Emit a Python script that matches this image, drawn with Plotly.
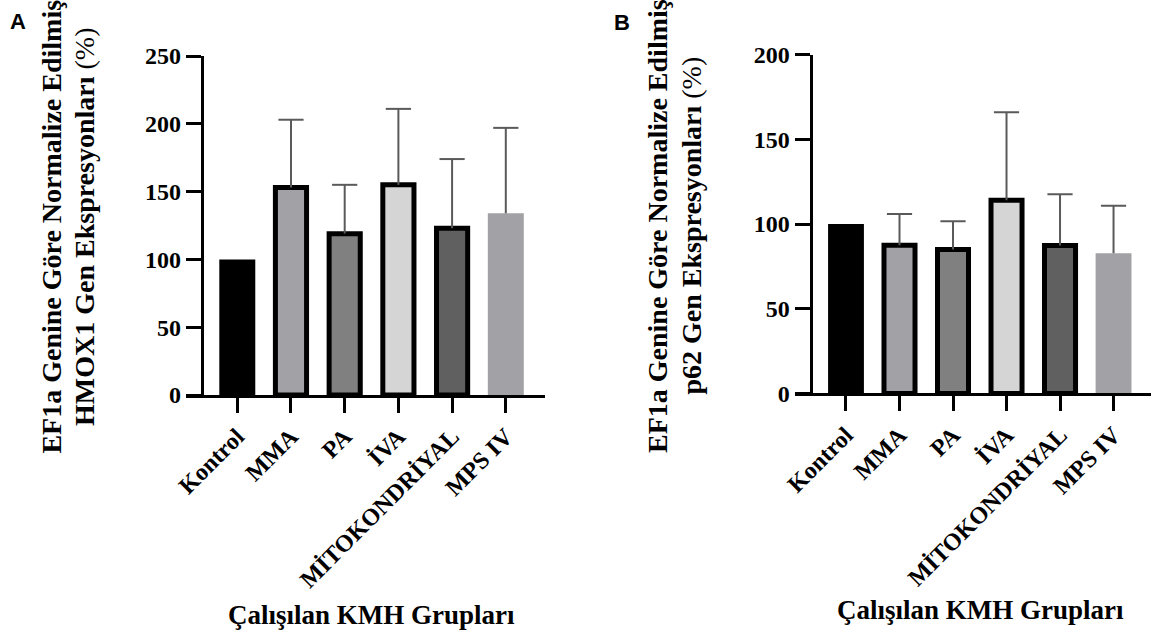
import plotly.graph_objects as go

# Groups studied
groups = ["Kontrol", "MMA", "PA", "İVA", "MİTOKONDRİYAL", "MPS IV"]

# HMOX1 expression (% of control, EF1a-normalised), mean and upper SD
hmox1_mean = [100, 153, 119, 155, 123, 134]
hmox1_sd = [None, 50, 36, 56, 51, 63]

# p62 expression (% of control, EF1a-normalised), mean and upper SD
p62_mean = [100, 87.5, 85, 114, 87.3, 82.7]
p62_sd = [None, 18.4, 16.6, 51.9, 30.2, 28.1]

hmox1_ticks = [0, 50, 100, 150, 200, 250]
p62_ticks = [0, 50, 100, 150, 200]

bar_fill = ["#000000", "#a2a2a6", "#808080", "#d5d5d5", "#606060", "#a2a2a6"]
bar_edge = [0, 5, 5, 5, 5, 0]
bar_width = [0.67, 0.58, 0.58, 0.58, 0.58, 0.67]

W, H = 1159, 634
SERIF = "Liberation Serif"
ERR = "#5a5a5a"


def fx(p):
    return p / W


def fy(p):
    return 1 - p / H


fig = go.Figure()


def add_panel(mean, sd, xa, ya):
    fig.add_trace(go.Bar(
        x=groups, y=mean, width=bar_width,
        marker=dict(color=bar_fill, line=dict(color="#000000", width=bar_edge)),
        xaxis=xa, yaxis=ya, showlegend=False, hoverinfo="x+y",
    ))
    # upper SD whiskers: cap marker at mean+SD, stem down to the mean
    ex = [g for g, s in zip(groups, sd) if s is not None]
    top = [m + s for m, s in zip(mean, sd) if s is not None]
    es = [s for s in sd if s is not None]
    fig.add_trace(go.Scatter(
        x=ex, y=top, mode="markers",
        marker=dict(symbol="line-ew", size=18, color=ERR, line=dict(color=ERR, width=2)),
        error_y=dict(type="data", array=[0] * len(es), arrayminus=es,
                     symmetric=False, color=ERR, thickness=2, width=0),
        xaxis=xa, yaxis=ya, showlegend=False, hoverinfo="skip",
    ))


add_panel(hmox1_mean, hmox1_sd, "x", "y")
add_panel(p62_mean, p62_sd, "x2", "y2")

xcommon = dict(
    type="category", categoryorder="array", categoryarray=groups,
    showline=True, linewidth=3, linecolor="#000000",
    ticks="outside", ticklen=15, tickwidth=3, tickcolor="#000000",
    tickangle=-45, tickfont=dict(family=SERIF, size=24, color="#000000", weight="bold"),
    showgrid=False, zeroline=False, fixedrange=True, automargin=False,
)
ycommon = dict(
    showline=True, linewidth=3, linecolor="#000000",
    ticks="outside", ticklen=15, tickwidth=3, tickcolor="#000000",
    tickfont=dict(family=SERIF, size=24, color="#000000", weight="bold"),
    showgrid=False, zeroline=False, anchor="free", fixedrange=True, automargin=False,
)

fig.update_layout(
    width=W, height=H, autosize=False,
    margin=dict(l=0, r=0, t=0, b=0, pad=0),
    paper_bgcolor="#ffffff", plot_bgcolor="#ffffff",
    xaxis=dict(xcommon, domain=[fx(186), fx(545)], range=[-0.955, 5.73], anchor="y"),
    yaxis=dict(ycommon, domain=[fy(395), fy(56)], range=[0, 250],
               tickvals=hmox1_ticks, position=fx(201.7)),
    xaxis2=dict(xcommon, domain=[fx(795), fx(1151)], range=[-0.953, 5.70], anchor="y2"),
    yaxis2=dict(ycommon, domain=[fy(393.4), fy(54.6)], range=[0, 200],
                tickvals=p62_ticks, position=fx(810.5)),
)

title_font = dict(family=SERIF, size=28, color="#000000")
xtitle_font = dict(family=SERIF, size=27, color="#000000")
panel_font = dict(family="Liberation Sans", size=22, color="#000000", weight="bold")

annotations = [
    dict(text="A", x=fx(8), y=fy(7), xanchor="left", yanchor="top", font=panel_font),
    dict(text="B", x=fx(612), y=fy(8), xanchor="left", yanchor="top", font=panel_font),
    dict(text="<b>EF1a Genine Göre Normalize Edilmiş</b>", x=fx(50.6), y=fy(227),
         textangle=-90, xanchor="center", yanchor="middle", font=title_font),
    dict(text="<b>HMOX1 Gen Ekspresyonları</b> (%)", x=fx(84), y=fy(227),
         textangle=-90, xanchor="center", yanchor="middle", font=title_font),
    dict(text="<b>EF1a Genine Göre Normalize Edilmiş</b>", x=fx(657), y=fy(226),
         textangle=-90, xanchor="center", yanchor="middle", font=title_font),
    dict(text="<b>p62 Gen Ekspresyonları</b> (%)", x=fx(690.6), y=fy(226),
         textangle=-90, xanchor="center", yanchor="middle", font=title_font),
    dict(text="<b>Çalışılan KMH Grupları</b>", x=fx(371), y=fy(615),
         xanchor="center", yanchor="middle", font=xtitle_font),
    dict(text="<b>Çalışılan KMH Grupları</b>", x=fx(980), y=fy(610),
         xanchor="center", yanchor="middle", font=xtitle_font),
]
for a in annotations:
    a.update(xref="paper", yref="paper", showarrow=False)
fig.update_layout(annotations=annotations)

fig.write_html("out.html")
